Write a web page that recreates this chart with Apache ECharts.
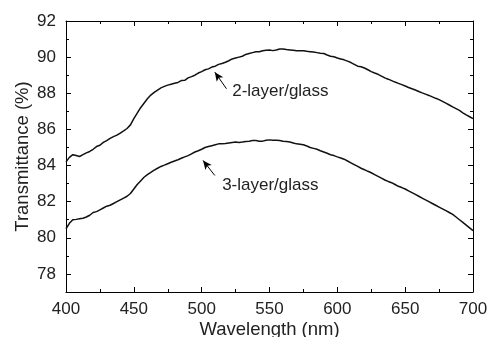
<!DOCTYPE html>
<html>
<head>
<meta charset="utf-8">
<script src="https://cdn.jsdelivr.net/npm/echarts@6/dist/echarts.min.js"></script>
<style>html,body{margin:0;padding:0;background:#fff}#c{width:488px;height:337px}</style>
</head>
<body>
<div id="c"></div>
<script>
const wavelength = [400,402.5,405,407.5,410,412.5,415,417.5,420,422.5,425,427.5,430,432.5,435,437.5,440,442.5,445,447.5,450,452.5,455,457.5,460,462.5,465,467.5,470,472.5,475,477.5,480,482.5,485,487.5,490,492.5,495,497.5,500,502.5,505,507.5,510,512.5,515,517.5,520,522.5,525,527.5,530,532.5,535,537.5,540,542.5,545,547.5,550,552.5,555,557.5,560,562.5,565,567.5,570,572.5,575,577.5,580,582.5,585,587.5,590,592.5,595,597.5,600,602.5,605,607.5,610,612.5,615,617.5,620,622.5,625,627.5,630,632.5,635,637.5,640,642.5,645,647.5,650,652.5,655,657.5,660,662.5,665,667.5,670,672.5,675,677.5,680,682.5,685,687.5,690,692.5,695,697.5,700];
const t2layer = [84.2,84.45,84.6,84.55,84.5,84.6,84.7,84.78,84.9,85.05,85.12,85.28,85.38,85.5,85.6,85.68,85.8,85.92,86.05,86.25,86.6,86.9,87.2,87.45,87.7,87.9,88.05,88.18,88.3,88.38,88.45,88.5,88.55,88.6,88.7,88.72,88.85,88.92,89.0,89.12,89.2,89.3,89.35,89.45,89.5,89.6,89.65,89.72,89.8,89.9,89.95,90.0,90.05,90.15,90.2,90.25,90.3,90.3,90.35,90.38,90.4,90.36,90.4,90.45,90.45,90.42,90.4,90.38,90.35,90.36,90.35,90.32,90.3,90.28,90.25,90.22,90.2,90.12,90.05,90.02,89.95,89.9,89.85,89.78,89.7,89.6,89.5,89.47,89.4,89.3,89.2,89.12,89.05,88.95,88.85,88.78,88.7,88.62,88.55,88.48,88.4,88.32,88.25,88.18,88.1,88.02,87.95,87.88,87.8,87.72,87.65,87.55,87.45,87.35,87.25,87.15,87.05,86.92,86.8,86.7,86.6];
const t3layer = [80.5,80.8,81.0,81.02,81.05,81.08,81.15,81.25,81.4,81.45,81.55,81.65,81.75,81.8,81.9,82.0,82.1,82.2,82.3,82.45,82.7,82.95,83.15,83.35,83.5,83.62,83.75,83.85,83.95,84.02,84.1,84.18,84.25,84.32,84.4,84.48,84.55,84.65,84.75,84.82,84.9,85.0,85.05,85.1,85.15,85.2,85.2,85.22,85.25,85.28,85.3,85.28,85.3,85.33,85.35,85.38,85.38,85.35,85.35,85.4,85.42,85.4,85.4,85.38,85.35,85.33,85.3,85.25,85.2,85.18,85.15,85.08,85.0,84.95,84.9,84.82,84.75,84.68,84.6,84.55,84.48,84.42,84.35,84.25,84.15,84.05,83.95,83.85,83.77,83.68,83.6,83.5,83.4,83.3,83.2,83.12,83.05,82.95,82.85,82.78,82.7,82.6,82.5,82.4,82.3,82.2,82.1,82.0,81.9,81.8,81.7,81.6,81.5,81.4,81.3,81.15,81.0,80.85,80.7,80.55,80.4];
const yMajorTicks = [78,80,82,84,86,88,90,92];
const yMinorTicks = [77,79,81,83,85,87,89,91];
const labels = ['2-layer/glass', '3-layer/glass'];
const labelPos = [[522.5, 88.12], [515.1, 82.9]];
const arrows = [[[518.3, 88.25], [509.7, 89.17]], [[509.7, 83.45], [501.0, 84.28]]];

const FONT = 'Liberation Sans, Arial, sans-serif';
const TXT = '#222';
const chart = echarts.init(document.getElementById('c'), null, {renderer: 'canvas'});

function xAx(pos, showLabel) {
  return {
    type: 'value', min: 400, max: 700, interval: 50, position: pos,
    axisLine: {show: true, onZero: false, lineStyle: {color: '#000', width: 1}},
    axisTick: {show: true, inside: true, length: 5, lineStyle: {color: '#000'}},
    minorTick: {show: true, splitNumber: 2, length: 3, lineStyle: {color: '#000'}},
    splitLine: {show: false}, minorSplitLine: {show: false},
    axisLabel: {show: showLabel, color: TXT, fontSize: 17, fontFamily: FONT, margin: 9},
    name: showLabel ? 'Wavelength (nm)' : '', nameLocation: 'middle', nameGap: 28, nameMoveOverlap: false,
    nameTextStyle: {color: TXT, fontSize: 18.5, fontFamily: FONT}
  };
}
function yMajor(pos, showLabel) {
  return {
    type: 'value', min: 77, max: 92, interval: 1, position: pos,
    axisLine: {show: true, onZero: false, lineStyle: {color: '#000', width: 1}},
    axisTick: {show: true, inside: true, length: 5, customValues: yMajorTicks, lineStyle: {color: '#000'}},
    splitLine: {show: false},
    axisLabel: {show: showLabel, color: TXT, fontSize: 17, fontFamily: FONT, margin: 10, customValues: yMajorTicks},
    name: showLabel ? 'Transmittance (%)' : '', nameLocation: 'middle', nameGap: 34, nameMoveOverlap: false,
    nameTextStyle: {color: TXT, fontSize: 18.5, fontFamily: FONT}
  };
}
function yMinor(pos) {
  return {
    type: 'value', min: 77, max: 92, interval: 1, position: pos,
    axisLine: {show: false}, axisLabel: {show: false}, splitLine: {show: false},
    axisTick: {show: true, inside: true, length: 3, customValues: yMinorTicks, lineStyle: {color: '#000'}}
  };
}

const lineStyle = {color: '#111', width: 1.5};
function mkSeries(vals, idx) {
  return {
    type: 'line', xAxisIndex: 0, yAxisIndex: 0, showSymbol: false, symbol: 'none',
    data: wavelength.map((w, i) => [w, vals[i]]), lineStyle: lineStyle, animation: false,
    markLine: {
      silent: true, animation: false, symbolSize: [6, 9],
      lineStyle: {color: '#000', width: 1, type: 'solid'}, label: {show: false},
      data: [[{coord: arrows[idx][0], symbol: 'none'}, {coord: arrows[idx][1], symbol: 'arrow'}]]
    }
  };
}

chart.setOption({
  backgroundColor: '#fff',
  animation: false,
  grid: {left: 66, right: 15, top: 21, bottom: 45, containLabel: false, outerBoundsMode: 'none'},
  xAxis: [xAx('bottom', true), xAx('top', false)],
  yAxis: [yMajor('left', true), yMajor('right', false), yMinor('left'), yMinor('right')],
  series: [mkSeries(t2layer, 0), mkSeries(t3layer, 1)]
});

const g = labels.map((t, i) => {
  const p = chart.convertToPixel({xAxisIndex: 0, yAxisIndex: 0}, labelPos[i]);
  return {type: 'text', x: p[0], y: p[1], style: {text: t, fill: TXT, font: '17px ' + FONT, verticalAlign: 'middle'}};
});
chart.setOption({graphic: g});
</script>
</body>
</html>
